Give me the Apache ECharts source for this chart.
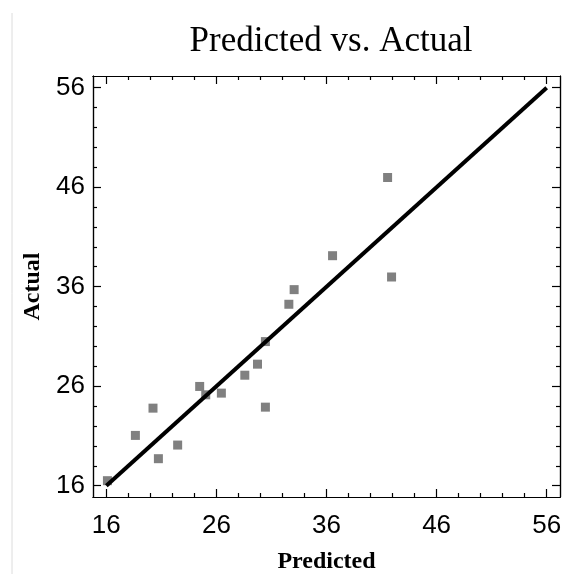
<!DOCTYPE html>
<html lang="">

<head>
  <meta charset="utf-8">
  <title>Predicted vs. Actual</title>
  <script src="https://cdn.jsdelivr.net/npm/echarts@6/dist/echarts.min.js"></script>
</head>

<body style="margin:0">
<div id="main" style="width: 563px;height:574px;"></div>
<script type="text/javascript">
    // values
    var predicted = [16.1, 18.64, 20.24, 20.73, 22.48, 24.48, 25.03, 26.45, 28.58, 29.73, 30.45, 30.45, 32.58, 33.06, 36.55, 41.55, 41.91];
    var actual = [16.5, 21.05, 23.79, 18.71, 20.08, 25.97, 25.13, 25.30, 27.10, 28.21, 30.48, 23.89, 34.23, 35.70, 39.11, 46.97, 36.97];
    var fitLine = [[16, 16], [56, 56]];
    var majorTicks = [16, 26, 36, 46, 56];
    var minorTicks = [18, 20, 22, 24, 28, 30, 32, 34, 38, 40, 42, 44, 48, 50, 52, 54];

    var points = [];
    for (var i = 0; i < predicted.length; i++) {
        points.push([predicted[i], actual[i]]);
    }

    var myChart = echarts.init(document.getElementById('main'));

    function axis(pos, ticks, len, withLabel, range) {
        return {
            type: 'value',
            position: pos,
            min: range[0],
            max: range[1],
            splitLine: {show: false},
            axisLine: {show: true, onZero: false, lineStyle: {color: '#000', width: 1.2}},
            axisTick: {show: true, inside: true, length: len, customValues: ticks, lineStyle: {color: '#000', width: 1.2}},
            axisLabel: withLabel ? {
                show: true, customValues: ticks, color: '#000', fontSize: 26,
                fontFamily: 'Liberation Sans', margin: withLabel
            } : {show: false}
        };
    }

    var xr = [14.79, 57.21];
    var yr = [14.86, 57.17];

    var xAxes = [axis('bottom', majorTicks, 8, 16, xr), axis('bottom', minorTicks, 4, 0, xr),
        axis('top', majorTicks, 8, 0, xr), axis('top', minorTicks, 4, 0, xr)];
    xAxes[0].name = 'Predicted';
    xAxes[0].nameLocation = 'middle';
    xAxes[0].nameGap = 53;
    xAxes[0].nameTextStyle = {fontFamily: 'Liberation Serif', fontWeight: 'bold', fontSize: 24, color: '#000'};

    var yAxes = [axis('left', majorTicks, 8, 8, yr), axis('left', minorTicks, 4, 0, yr),
        axis('right', majorTicks, 8, 0, yr), axis('right', minorTicks, 4, 0, yr)];
    yAxes[0].name = 'Actual';
    yAxes[0].nameLocation = 'middle';
    yAxes[0].nameGap = 47;
    yAxes[0].nameTextStyle = {fontFamily: 'Liberation Serif', fontWeight: 'bold', fontSize: 24, color: '#000'};

    var option = {
        animation: false,
        title: {
            text: 'Predicted vs. Actual',
            left: 326,
            textAlign: 'center',
            top: 19,
            textStyle: {fontFamily: 'Liberation Serif', fontWeight: 'normal', fontSize: 35, color: '#000'}
        },
        grid: {left: 93, right: 3, top: 76, bottom: 77, containLabel: false, outerBoundsMode: 'none'},
        xAxis: xAxes,
        yAxis: yAxes,
        graphic: [{
            type: 'line',
            shape: {x1: 12, y1: 13, x2: 12, y2: 574},
            style: {stroke: '#dcdcdc', lineWidth: 1}
        }],
        series: [{
            type: 'scatter',
            symbol: 'rect',
            symbolSize: 9,
            itemStyle: {color: '#808080', opacity: 1},
            data: points,
            z: 2
        }, {
            type: 'line',
            symbol: 'none',
            lineStyle: {color: '#000', width: 4},
            data: fitLine,
            z: 3
        }]
    };

    myChart.setOption(option);
</script>

</body>
</html>
